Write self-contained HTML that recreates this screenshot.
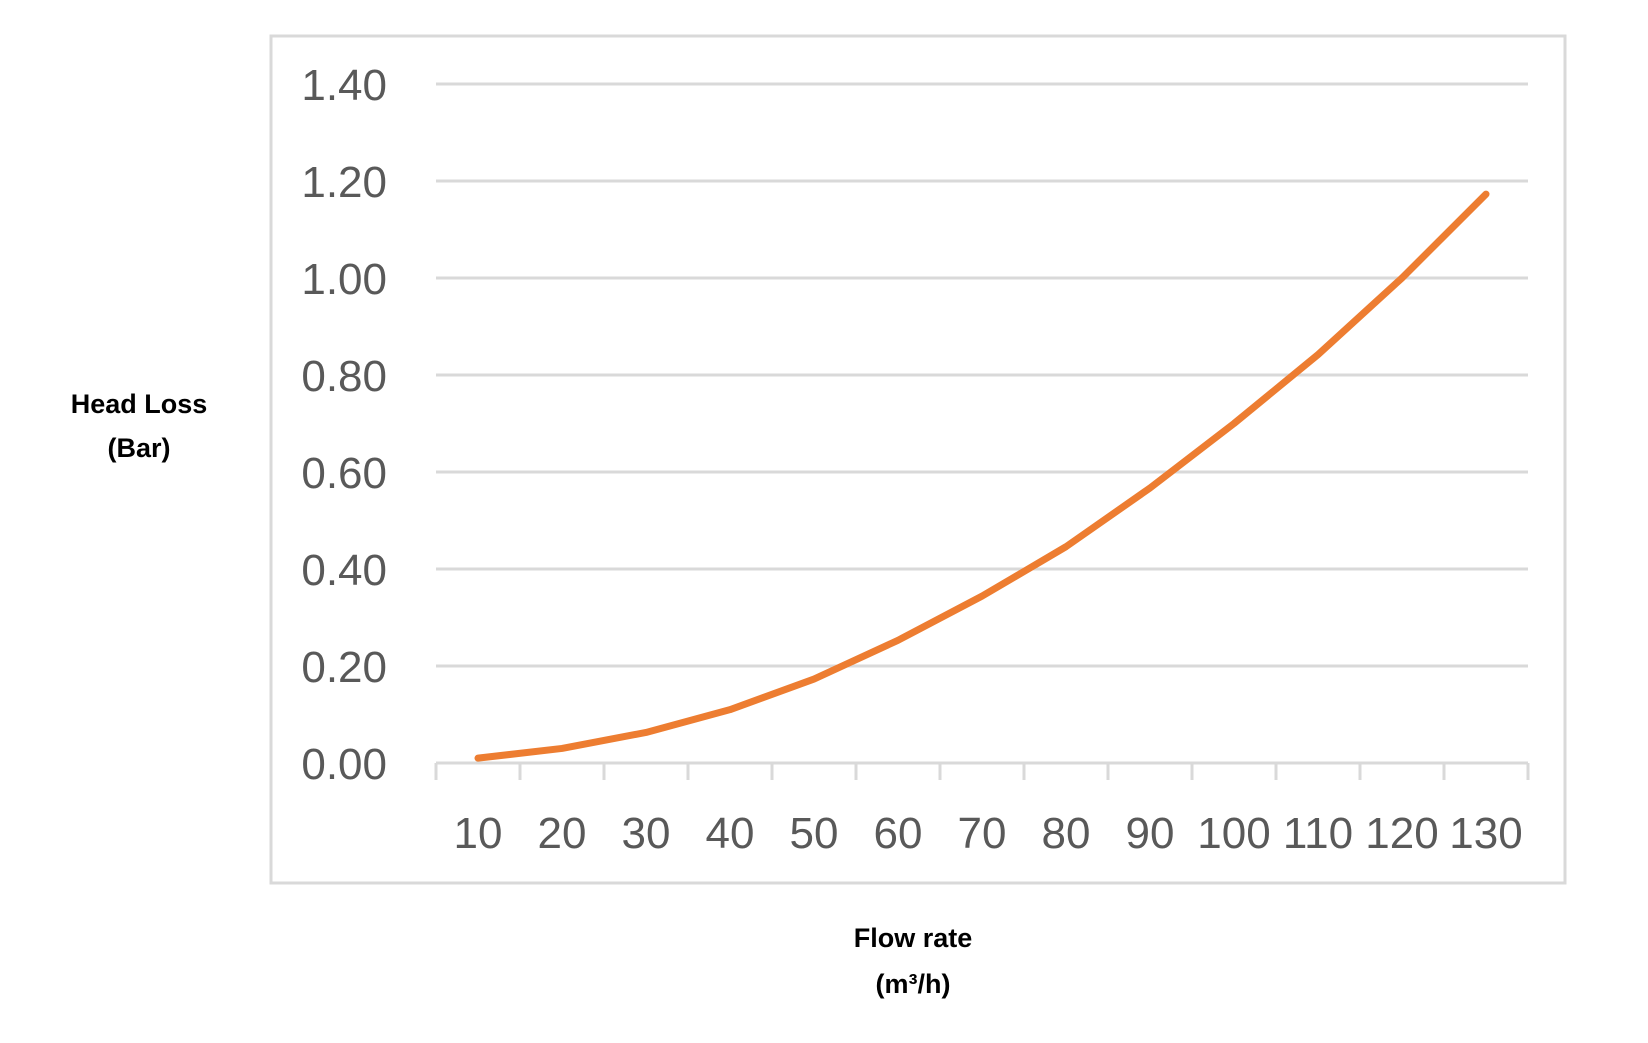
<!DOCTYPE html>
<html><head><meta charset="utf-8"><style>
html,body{margin:0;padding:0;background:#fff;}
svg{display:block;font-family:"Liberation Sans",sans-serif;}
</style></head><body>
<svg id="chart" width="1648" height="1043" viewBox="0 0 1648 1043">
<rect x="271" y="36" width="1294" height="847" fill="#fff" stroke="#d9d9d9" stroke-width="3"/>
<g id="grid"></g><g id="yticks"></g><g id="xaxis"></g><g id="series"></g>
<text x="139" y="413" text-anchor="middle" font-weight="bold" font-size="27" fill="#000">Head Loss</text>
<text x="139" y="457" text-anchor="middle" font-weight="bold" font-size="27" fill="#000">(Bar)</text>
<text x="913" y="947" text-anchor="middle" font-weight="bold" font-size="27" fill="#000">Flow rate</text>
<text x="913" y="993" text-anchor="middle" font-weight="bold" font-size="27" fill="#000">(m³/h)</text>
</svg>
<script>
const categories = ["10","20","30","40","50","60","70","80","90","100","110","120","130"];
const headLoss = [0.01,0.03,0.063,0.11,0.173,0.253,0.344,0.446,0.567,0.70,0.842,1.0,1.173];
const yTicks = [0,0.2,0.4,0.6,0.8,1.0,1.2,1.4];
const yTickLabels = ["0.00","0.20","0.40","0.60","0.80","1.00","1.20","1.40"];

const NS="http://www.w3.org/2000/svg";
const L=436,R=1528,B=763,T=84,yMax=1.4;
const bw=(R-L)/categories.length;
const xs=i=>L+(i+0.5)*bw;
const ys=v=>B-(v/yMax)*(B-T);
function mk(tag,attrs,parent){const e=document.createElementNS(NS,tag);for(const k in attrs)e.setAttribute(k,attrs[k]);document.getElementById(parent).appendChild(e);return e;}

yTicks.forEach((v,i)=>{
  if(i>0){
    const g=mk('line',{x1:L,x2:R,y1:ys(v),y2:ys(v),stroke:'#d9d9d9','stroke-width':3},'grid');
    
    
  }
  const t=mk('text',{x:387,y:ys(v)+16,'text-anchor':'end','font-size':44,fill:'#595959'},'yticks');
  t.textContent=yTickLabels[i];
  
  
});

const ax=mk('line',{x1:L,x2:R,y1:B,y2:B,stroke:'#d9d9d9','stroke-width':3},'xaxis');


for(let i=0;i<=categories.length;i++){
  const tk=mk('line',{x1:L+i*bw,x2:L+i*bw,y1:B,y2:780,stroke:'#d9d9d9','stroke-width':3},'xaxis');
  
  
}
categories.forEach((c,i)=>{
  const t=mk('text',{x:xs(i),y:848,'text-anchor':'middle','font-size':44,fill:'#595959'},'xaxis');
  t.textContent=c;
  
  
});

const pts=headLoss.map((v,i)=>xs(i)+','+ys(v)).join(' ');
const line=mk('polyline',{points:pts,fill:'none',stroke:'#ED7D31','stroke-width':7,'stroke-linecap':'round','stroke-linejoin':'round'},'series');


</script>
</body></html>
